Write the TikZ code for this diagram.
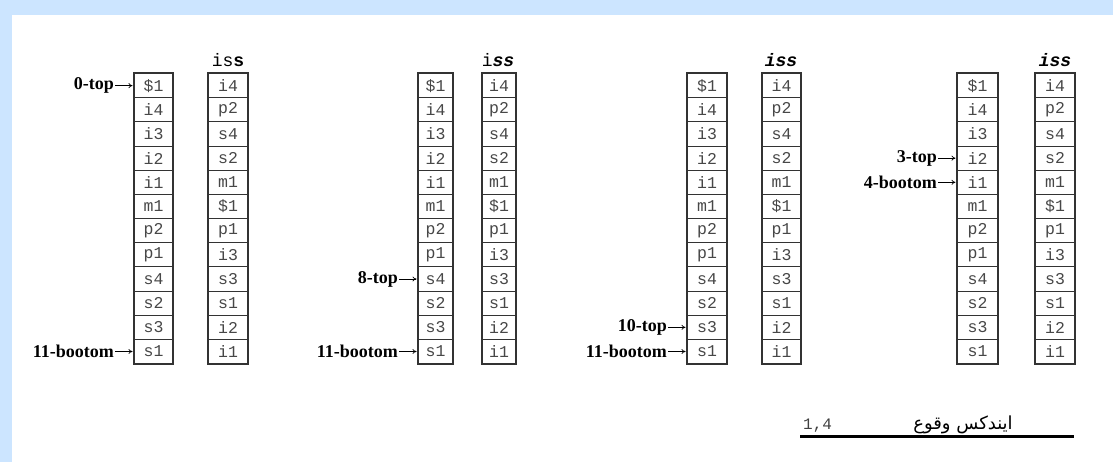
\documentclass[tikz,border=0pt]{standalone}
\usepackage{fontspec}
\setmainfont{Liberation Serif}
\setmonofont{Liberation Mono}
\newfontfamily\arabicfont[Script=Arabic]{DejaVu Sans}
\TeXXeTstate=1
\usetikzlibrary{arrows.meta}
\definecolor{frameblue}{HTML}{CCE5FF}
\definecolor{celline}{HTML}{333333}
\newcommand\stackcol[5]{%
  \foreach \t [count=\i] in {#5} {%
    \node[cell, minimum width=#4pt] (#1\i) at (#2, {73+(\i-1)*24.17}) {\t};}%
  \draw[stackframe] (#11.north west) rectangle (#112.south east);
}
\newcommand\ptr[3]{% name, target cell, text
  \node[lbl] (#1) at ([xshift=-20pt]#2.west) {#3};
  \draw[ptrarrow] (#1.east) -- ([xshift=-1.5pt]#2.west);
}
\begin{document}
\begin{tikzpicture}[x=1pt,y=-1pt,
  cell/.style={draw=celline, line width=1.1pt, minimum height=24.17pt, inner sep=0pt,
    font=\fontsize{16.5}{16.5}\selectfont\ttfamily, text=black!72, anchor=north west},
  stackframe/.style={draw=celline, line width=1.8pt},
  lbl/.style={font=\fontsize{18}{18}\selectfont\bfseries, anchor=east, inner sep=0pt},
  ptrarrow/.style={-{To[length=4pt,width=5pt]}, line width=0.7pt, shorten <=1pt},
  hdr/.style={font=\fontsize{18}{18}\selectfont\ttfamily, anchor=base, inner sep=0pt}]
\useasboundingbox (0,0) rectangle (1113,462);
\fill[frameblue] (0,0) rectangle (1113,462);
\fill[white] (12,15) rectangle (1113,462);
% column 1
\stackcol{aL}{134}{73}{38}{\$1,i4,i3,i2,i1,m1,p2,p1,s4,s2,s3,s1}
\stackcol{aR}{208}{73}{39}{i4,p2,s4,s2,m1,\$1,p1,i3,s3,s1,i2,i1}
\node[hdr] (ah) at (228,67) {is\textbf{s}};
\ptr{at}{aL1}{0-top}
\ptr{ab}{aL12}{11-bootom}
% column 2
\stackcol{bL}{418}{73}{34}{\$1,i4,i3,i2,i1,m1,p2,p1,s4,s2,s3,s1}
\stackcol{bR}{482}{73}{33}{i4,p2,s4,s2,m1,\$1,p1,i3,s3,s1,i2,i1}
\node[hdr] (bh) at (498,67) {i{\bfseries\itshape ss}};
\ptr{bt}{bL9}{8-top}
\ptr{bb}{bL12}{11-bootom}
% column 3
\stackcol{cL}{687}{73}{39}{\$1,i4,i3,i2,i1,m1,p2,p1,s4,s2,s3,s1}
\stackcol{cR}{762}{73}{38}{i4,p2,s4,s2,m1,\$1,p1,i3,s3,s1,i2,i1}
\node[hdr] (ch) at (781,67) {{\bfseries\itshape iss}};
\ptr{ct}{cL11}{10-top}
\ptr{cb}{cL12}{11-bootom}
% column 4
\stackcol{dL}{957}{73}{40}{\$1,i4,i3,i2,i1,m1,p2,p1,s4,s2,s3,s1}
\stackcol{dR}{1035}{73}{39}{i4,p2,s4,s2,m1,\$1,p1,i3,s3,s1,i2,i1}
\node[hdr] (dh) at (1055,67) {{\bfseries\itshape iss}};
\ptr{dt}{dL4}{3-top}
\ptr{db}{dL5}{4-bootom}
% bottom
\node[font=\fontsize{16}{16}\selectfont\ttfamily, text=black!75, anchor=base west, inner sep=0pt] (idx) at (803,429) {1,4};
\node[font=\fontsize{18}{18}\selectfont\arabicfont, anchor=base, inner sep=0pt] (ttl) at (963,429) {\beginR ایندکس وقوع\endR};
\coordinate (ls) at (800,436);
\coordinate (le) at (1074,436);
\draw[line width=3pt] (ls) -- (le);
\end{tikzpicture}
\end{document}
